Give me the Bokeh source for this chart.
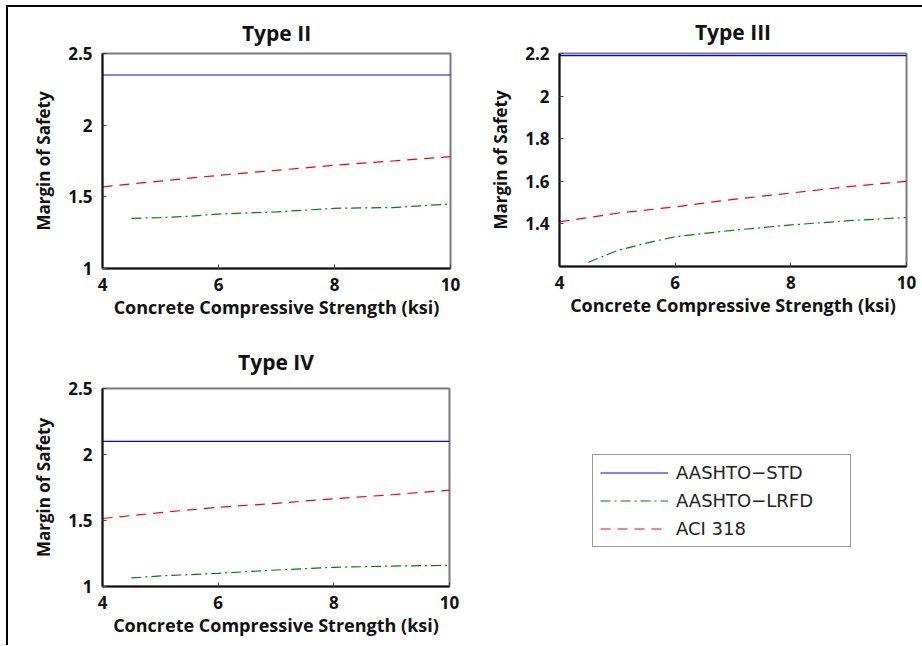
from bokeh.plotting import figure
from bokeh.models import Range1d, FixedTicker, CustomJSTickFormatter, Legend, LegendItem
from bokeh.layouts import column, row
from bokeh.embed import file_html
from bokeh.resources import INLINE

# ---------------- data ----------------
x_std = [4, 10]
x_aci = [4, 5, 6, 7, 8, 9, 10]
x_lrfd = [4.5, 5, 5.5, 6, 7, 8, 9, 10]

std_II = [2.35, 2.35]
aci_II = [1.57, 1.61, 1.65, 1.685, 1.72, 1.75, 1.78]
lrfd_II = [1.35, 1.355, 1.365, 1.38, 1.395, 1.42, 1.425, 1.45]

std_III = [2.19, 2.19]
aci_III = [1.41, 1.45, 1.48, 1.515, 1.545, 1.575, 1.60]
lrfd_III = [1.22, 1.275, 1.31, 1.34, 1.37, 1.395, 1.415, 1.43]

std_IV = [2.10, 2.10]
aci_IV = [1.515, 1.56, 1.60, 1.63, 1.665, 1.695, 1.73]
lrfd_IV = [1.065, 1.08, 1.09, 1.10, 1.125, 1.145, 1.155, 1.16]

x_ticks = [4, 6, 8, 10]
y_ticks_II = [1, 1.5, 2, 2.5]
y_ticks_III = [1.4, 1.6, 1.8, 2.0, 2.2]
y_ticks_IV = [1, 1.5, 2, 2.5]

series_names = ["AASHTO\u2212STD", "AASHTO\u2212LRFD", "ACI 318"]
titles = ["Type II", "Type III", "Type IV"]
x_label = "Concrete Compressive Strength (ksi)"
y_label = "Margin of Safety"

FONT = "Open Sans"
BLUE, GREEN, RED = "#0000ff", "#008000", "#ff0000"
DASH_ACI = "10 7"
DASH_LRFD = "10 4 2 4"

fmt = CustomJSTickFormatter(code="return tick.toString();")


def make_panel(title, yr, yticks, std, aci, lrfd, w, h, fw, fh, bl, bt, bb, br, tstand):
    p = figure(width=w, height=h, frame_width=fw, frame_height=fh,
               x_range=Range1d(4, 10), y_range=Range1d(*yr),
               output_backend="svg", toolbar_location=None,
               min_border_left=bl, min_border_top=bt, min_border_bottom=bb,
               min_border_right=br)
    p.title.text = title
    p.title.align = "center"
    p.title.text_font = FONT
    p.title.text_font_size = "21px"
    p.title.text_font_style = "bold"
    p.title.text_color = "#111111"
    p.title.standoff = tstand
    p.xgrid.visible = False
    p.ygrid.visible = False
    p.outline_line_color = "#7a7a7a"
    p.outline_line_width = 2

    for ax, ticks in ((p.xaxis[0], x_ticks), (p.yaxis[0], yticks)):
        ax.ticker = FixedTicker(ticks=ticks)
        ax.formatter = fmt
        ax.axis_line_color = "#111111"
        ax.axis_line_width = 2
        ax.major_tick_in = 4
        ax.major_tick_out = 0
        ax.major_tick_line_color = "#444444"
        ax.minor_tick_line_color = None
        ax.major_label_text_font = FONT
        ax.major_label_text_font_size = "17px"
        ax.major_label_text_font_style = "bold"
        ax.major_label_text_color = "#111111"
        ax.axis_label_text_font = FONT
        ax.axis_label_text_font_style = "bold"
        ax.axis_label_text_color = "#111111"
    p.xaxis.axis_label = x_label
    p.yaxis.axis_label = y_label
    p.xaxis.axis_label_text_font_size = "18px"
    p.yaxis.axis_label_text_font_size = "17px"
    p.xaxis.major_label_standoff = 9
    p.xaxis.axis_label_standoff = 1
    p.yaxis.major_label_standoff = 10
    p.yaxis.axis_label_standoff = 10

    rs = p.line(x_std, std, line_color=BLUE, line_width=1.2)
    rl = p.line(x_lrfd, lrfd, line_color=GREEN, line_width=1.2, line_dash=DASH_LRFD)
    ra = p.line(x_aci, aci, line_color=RED, line_width=1.2, line_dash=DASH_ACI)
    return p, (rs, rl, ra)


p1, _ = make_panel(titles[0], (1, 2.5), y_ticks_II, std_II, aci_II, lrfd_II,
                   452, 313, 348, 215, 94, 43, 55, 10, 14)
p2, _ = make_panel(titles[1], (1.2, 2.2), y_ticks_III, std_III, aci_III, lrfd_III,
                   460, 313, 347, 213, 99, 45, 55, 14, 16)
# bottom panel spans the full width; the legend sits in its right-hand margin
p3, rr = make_panel(titles[2], (1, 2.5), y_ticks_IV, std_IV, aci_IV, lrfd_IV,
                    912, 324, 347, 198, 94, 67, 59, 471, 25)

leg = Legend(items=[LegendItem(label=series_names[0], renderers=[rr[0]]),
                    LegendItem(label=series_names[1], renderers=[rr[1]]),
                    LegendItem(label=series_names[2], renderers=[rr[2]])],
             location=(143, 39), orientation="vertical",
             glyph_width=68, glyph_height=21, label_height=21,
             label_standoff=8, spacing=7, padding=7, margin=0,
             label_width=167,
             label_text_font="DejaVu Sans", label_text_font_size="18px",
             label_text_color="#222222",
             border_line_color="#333333", border_line_width=1.5,
             background_fill_color="white", background_fill_alpha=1)
p3.add_layout(leg, "right")

layout = column(row(p1, p2), p3,
                styles={"margin-left": "6px", "margin-top": "5px",
                        "border-left": "2px solid black", "border-top": "2px solid black"})

open("out.html", "w").write(file_html(layout, INLINE))
